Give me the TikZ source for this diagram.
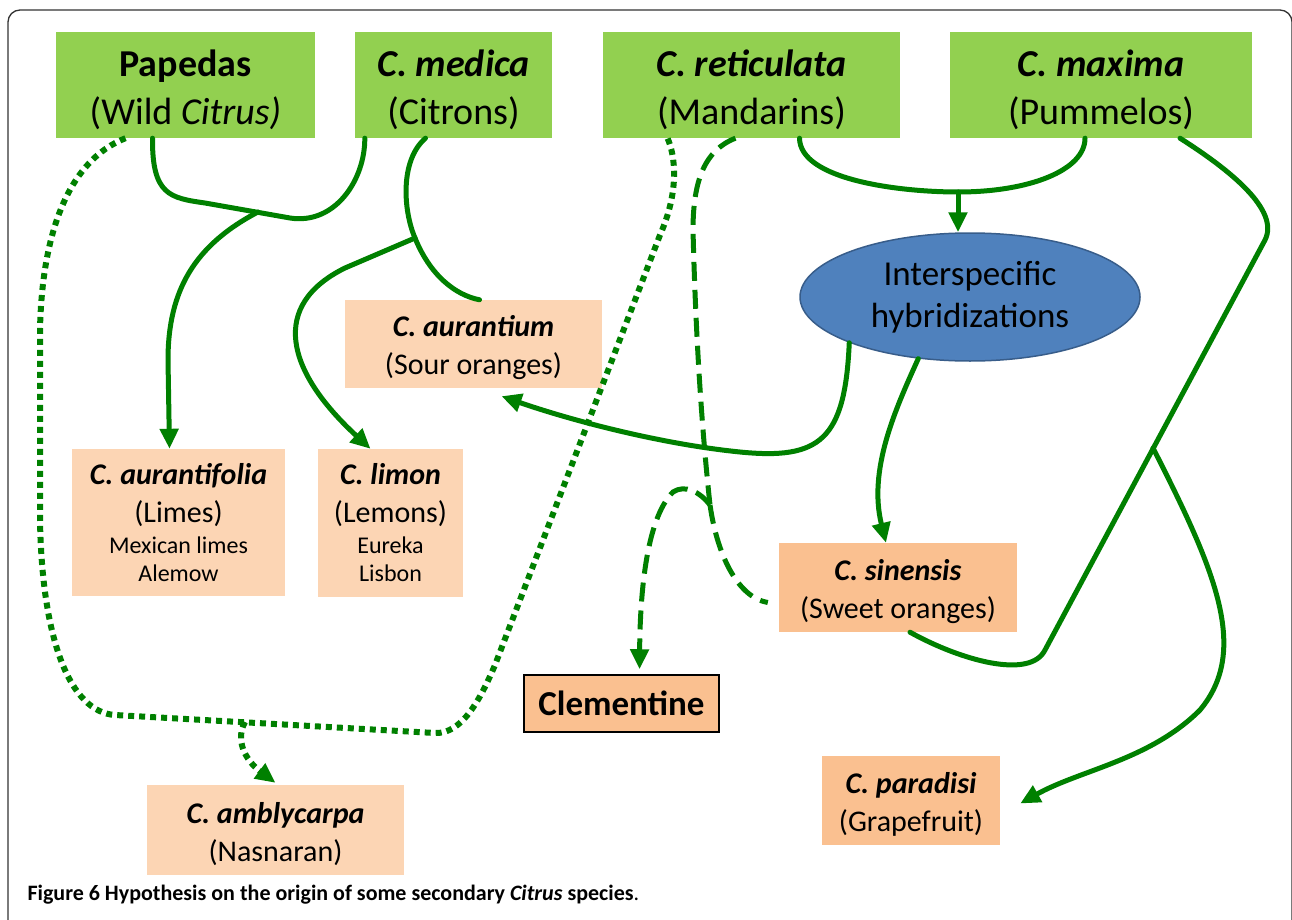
\documentclass[tikz,border=0pt]{standalone}
\usepackage{fontspec}
\setmainfont{Carlito}
\usetikzlibrary{arrows.meta,shapes.geometric}
\definecolor{leafgreen}{RGB}{146,208,80}
\definecolor{peach}{RGB}{252,213,180}
\definecolor{apricot}{RGB}{250,192,144}
\definecolor{hybblue}{RGB}{79,129,189}
\definecolor{hybedge}{RGB}{56,93,138}
\definecolor{linkgreen}{RGB}{0,128,0}
\newcommand{\tallline}{\rule{0pt}{0.96em}}

\begin{document}
\begin{tikzpicture}[x=1pt,y=-1pt,
  topbox/.style={fill=leafgreen,align=center,inner sep=0pt,font=\fontsize{38}{48}\selectfont},
  peachbox/.style={fill=peach,align=center,inner sep=0pt,font=\fontsize{30}{38}\selectfont},
  apricotbox/.style={fill=apricot,align=center,inner sep=0pt,font=\fontsize{30}{38}\selectfont},
  link/.style={draw=linkgreen,line width=5pt,line cap=round},
  dotlink/.style={draw=linkgreen,line width=6pt,dash pattern=on 6pt off 5pt},
  dashlink/.style={draw=linkgreen,line width=5pt,dash pattern=on 19pt off 9pt},
  tip/.style={-{Triangle[length=20pt,width=18pt]}}]
\useasboundingbox (0,0) rectangle (1292,920);
\draw [line width=1.3pt, black!80, rounded corners=12pt] (8,925) -- (8,10) -- (1292,10) -- (1292,925);

% parents
\node [topbox, minimum width=259, minimum height=106] (papedas) at (185.5,85) {\tallline\textbf{Papedas}\\(Wild \textit{Citrus)}};
\node [topbox, minimum width=197, minimum height=106] (medica) at (453.5,85) {\tallline\textbf{\textit{C. medica}}\\(Citrons)};
\node [topbox, minimum width=297, minimum height=106] (retic) at (751.5,85) {\tallline\textbf{\textit{C. reticulata}}\\(Mandarins)};
\node [topbox, minimum width=302, minimum height=106] (maxima) at (1101,85) {\tallline\textbf{\textit{C. maxima}}\\(Pummelos)};
\node [ellipse, fill=hybblue, draw=hybedge, line width=1.5pt, minimum width=340, minimum height=128, inner sep=0pt, align=center, font=\fontsize{35}{42}\selectfont] (hybrid) at (970,297) {Interspecific\\hybridizations};

% secondary species
\node [peachbox, minimum width=257, minimum height=88] (aurantium) at (473.5,344) {\tallline\textbf{\textit{C. aurantium}}\\(Sour oranges)};
\node [peachbox, minimum width=213, minimum height=147] (aurantifolia) at (178.5,522.5) {\textbf{\textit{C. aurantifolia}}\\(Limes)\\[-7pt]{\fontsize{24}{28}\selectfont Mexican limes}\\[-10pt]{\fontsize{24}{28}\selectfont Alemow}};
\node [peachbox, minimum width=145, minimum height=148] (limon) at (390.5,523) {\textbf{\textit{C. limon}}\\(Lemons)\\[-7pt]{\fontsize{24}{28}\selectfont Eureka}\\[-10pt]{\fontsize{24}{28}\selectfont Lisbon}};
\node [apricotbox, minimum width=238, minimum height=89] (sinensis) at (898,587.5) {\tallline\textbf{\textit{C. sinensis}}\\(Sweet oranges)};
\node [apricotbox, draw=black, line width=1.5pt, minimum width=195, minimum height=57, font=\fontsize{35}{40}\selectfont\bfseries] (clementine) at (621.5,703.5) {Clementine};
\node [apricotbox, minimum width=178, minimum height=89] (paradisi) at (911,800.5) {\tallline\textbf{\textit{C. paradisi}}\\(Grapefruit)};
\node [peachbox, minimum width=257, minimum height=90] (amblycarpa) at (275.5,830) {\tallline\textbf{\textit{C. amblycarpa}}\\(Nasnaran)};

% limes
\draw [link] ([xshift=-33]papedas.south) .. controls (152,195) and (170,198) .. (205,203) -- (290,218) .. controls (335,225) and (365,180) .. ([xshift=10]medica.south west);
\coordinate (j1) at (258,212);
\draw [link, tip] (j1) .. controls (195,245) and (168,290) .. (168,360) -- ([xshift=-9]aurantifolia.north);

% lemons and sour oranges
\draw [link] ([xshift=-28]medica.south) .. controls (400,160) and (403,210) .. (415,238) .. controls (430,275) and (455,295) .. ([xshift=6]aurantium.north);
\coordinate (j2) at (415,238);
\draw [link, tip] (j2) -- (345,268) .. controls (270,305) and (285,370) .. ([xshift=-20]limon.north);

% hybridizations
\draw [link] ([xshift=48]retic.south) .. controls (800,180) and (900,192) .. (958,192) .. controls (1030,192) and (1085,170) .. ([xshift=-16]maxima.south);
\coordinate (j3) at (958,192);
\draw [link, tip] (j3) -- (j3 |- hybrid.north);
\draw [link, tip] (hybrid.south west) .. controls (845,440) and (820,460) .. (740,452) .. controls (660,444) and (570,420) .. ([xshift=28,yshift=-8]aurantium.south);
\draw [link, tip] (hybrid.230) .. controls (895,410) and (868,470) .. ([xshift=-12]sinensis.north);

% grapefruit
\draw [link] ([xshift=12]sinensis.south) .. controls (960,660) and (1030,680) .. (1045,650) -- (1265,240) .. controls (1280,210) and (1230,170) .. ([xshift=79]maxima.south);
\coordinate (j4) at (1153,448);
\draw [link, tip] (j4) .. controls (1215,570) and (1250,650) .. (1200,710) .. controls (1150,760) and (1080,770) .. ([xshift=20,yshift=-3]paradisi.east);

% nasnaran
\draw [dotlink] ([xshift=-60]papedas.south) .. controls (70,160) and (42,230) .. (40,330) -- (40,520) .. controls (42,640) and (70,712) .. (115,715) -- (435,733) .. controls (462,734) and (480,700) .. (495,665) -- (660,235) .. controls (680,190) and (675,155) .. ([xshift=-84]retic.south);
\coordinate (j5) at (245,722);
\draw [dotlink, tip] (j5) .. controls (235,740) and (245,760) .. ([yshift=2]amblycarpa.north);

% clementine
\draw [dashlink] ([xshift=-16]retic.south) .. controls (705,150) and (693,180) .. (693,230) .. controls (696,350) and (703,440) .. (710,505);
\coordinate (j6) at (710,505);
\draw [dashlink] (j6) .. controls (718,560) and (740,598) .. ([xshift=-11,yshift=-15]sinensis.west);
\draw [dashlink, tip] (j6) .. controls (700,492) and (685,484) .. (673,492) .. controls (645,520) and (640,600) .. ([xshift=18,yshift=5]clementine.north);

\node [anchor=base west, font=\fontsize{22}{26}\selectfont] (caption) at (24,900) {\textbf{Figure 6 Hypothesis on the origin of some secondary \textit{Citrus} species}.};
\end{tikzpicture}
\end{document}
